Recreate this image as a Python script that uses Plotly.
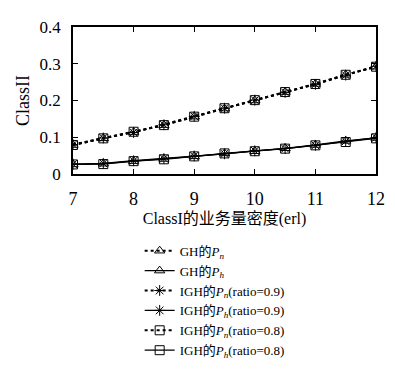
import plotly.graph_objects as go

x = [7, 7.5, 8, 8.5, 9, 9.5, 10, 10.5, 11, 11.5, 12]
gh_pn = [0.079, 0.097, 0.114, 0.133, 0.156, 0.178, 0.200, 0.223, 0.245, 0.270, 0.292]
gh_ph = [0.026, 0.028, 0.035, 0.041, 0.048, 0.056, 0.062, 0.070, 0.079, 0.090, 0.098]
igh9_pn = [0.080, 0.098, 0.113, 0.134, 0.157, 0.179, 0.201, 0.222, 0.244, 0.269, 0.293]
igh9_ph = [0.027, 0.029, 0.036, 0.042, 0.049, 0.055, 0.063, 0.069, 0.078, 0.089, 0.099]
igh8_pn = [0.079, 0.097, 0.115, 0.133, 0.156, 0.179, 0.201, 0.223, 0.245, 0.270, 0.292]
igh8_ph = [0.026, 0.027, 0.035, 0.040, 0.048, 0.056, 0.062, 0.069, 0.078, 0.087, 0.097]

names = [
    "GH的<i>P</i><sub><i>n</i></sub>",
    "GH的<i>P</i><sub><i>h</i></sub>",
    "IGH的<i>P</i><sub><i>n</i></sub>(ratio=0.9)",
    "IGH的<i>P</i><sub><i>h</i></sub>(ratio=0.9)",
    "IGH的<i>P</i><sub><i>n</i></sub>(ratio=0.8)",
    "IGH的<i>P</i><sub><i>h</i></sub>(ratio=0.8)",
]
series = [gh_pn, gh_ph, igh9_pn, igh9_ph, igh8_pn, igh8_ph]
symbols = ["triangle-up-open", "triangle-up-open", "asterisk-open", "asterisk-open",
           "square-open", "square-open"]
dashes = ["dot", "solid", "dot", "solid", "dot", "solid"]

fig = go.Figure()
for n, y, s, d in zip(names, series, symbols, dashes):
    fig.add_trace(go.Scatter(
        x=x, y=y, name=n, mode="lines+markers",
        line=dict(color="black", width=1.3 if d == "solid" else 2, dash=d),
        marker=dict(symbol=s, size=9, color="black", line=dict(color="black", width=1)),
    ))

font_main = "Liberation Serif, DejaVu Serif, Noto Sans CJK SC, serif"
fig.update_layout(
    width=387, height=368,
    margin=dict(l=65, r=16, t=10, b=201),
    paper_bgcolor="white", plot_bgcolor="white",
    font=dict(family=font_main, size=16, color="black"),
    showlegend=True,
    legend=dict(
        x=0.22, y=-0.42, xanchor="left", yanchor="top",
        font=dict(size=13, family=font_main),
        bgcolor="rgba(0,0,0,0)", borderwidth=0,
        itemwidth=30, tracegroupgap=0,
    ),
    xaxis=dict(
        range=[7, 12], tickvals=[7, 8, 9, 10, 11, 12],
        ticks="inside", ticklen=5, tickcolor="black",
        showline=True, linecolor="black", linewidth=1.5, mirror="ticks",
        showgrid=False, zeroline=False,
        ticklabelstandoff=8,
        title=dict(text="ClassI的业务量密度(erl)", font=dict(size=16), standoff=4),
        tickfont=dict(size=18),
    ),
    yaxis=dict(
        range=[0, 0.4], tickvals=[0, 0.1, 0.2, 0.3, 0.4],
        ticktext=["0", "0.1", "0.2", "0.3", "0.4"],
        ticks="inside", ticklen=5, tickcolor="black",
        showline=True, linecolor="black", linewidth=1.5, mirror="ticks",
        showgrid=False, zeroline=False,
        ticklabelstandoff=7,
        title=dict(text="ClassII", font=dict(size=18), standoff=5),
        tickfont=dict(size=17),
    ),
)

fig.write_html("out.html")
